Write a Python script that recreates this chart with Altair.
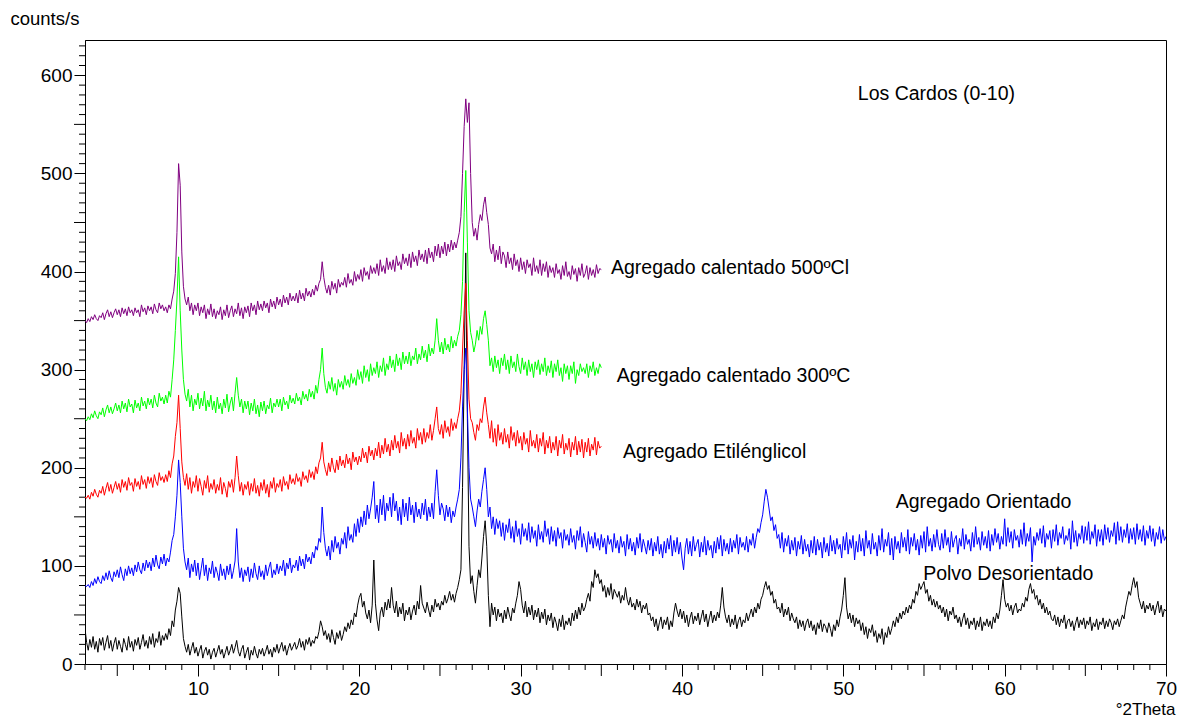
import altair as alt
import pandas as pd

# 2-theta grid (instrument step 0.1 deg)
X_LONG = [round(3.0 + 0.1 * i, 1) for i in range(671)]   # 3.0 .. 70.0
X_SHORT = X_LONG[:321]                                    # 3.0 .. 35.0

POLVO = [
    36, 22, 14, 25, 17, 28, 15, 23, 12, 26,
    19, 27, 14, 22, 29, 16, 24, 13, 21, 27,
    15, 24, 18, 12, 26, 20, 14, 28, 17, 23,
    13, 25, 19, 27, 15, 22, 30, 18, 24, 16,
    28, 20, 31, 17, 26, 22, 33, 19, 29, 24,
    31, 25, 36, 29, 44, 38, 55, 64, 78, 72,
    48, 26, 18, 12, 20, 9, 16, 22, 11, 17,
    8, 14, 19, 6, 13, 17, 9, 15, 5, 12,
    16, 7, 13, 19, 10, 15, 6, 12, 18, 9,
    14, 20, 11, 17, 24, 13, 8, 15, 19, 6,
    12, 17, 4, 14, 9, 18, 11, 6, 15, 10,
    16, 8, 13, 19, 10, 15, 7, 17, 12, 20,
    11, 17, 22, 13, 19, 9, 16, 21, 14, 18,
    22, 15, 19, 26, 17, 23, 14, 25, 20, 27,
    18, 24, 21, 28, 26, 33, 44, 38, 29, 34,
    25, 31, 22, 35, 27, 20, 32, 26, 34, 24,
    30, 38, 33, 42, 36, 45, 40, 52, 48, 60,
    68, 72, 58, 64, 52, 46, 55, 42, 60, 106,
    62, 45, 34, 52, 58, 48, 63, 55, 66, 57,
    78, 60, 52, 64, 48, 58, 51, 62, 44, 55,
    50, 58, 45, 54, 60, 50, 64, 56, 80, 62,
    57, 52, 63, 55, 48, 60, 53, 66, 58, 62,
    55, 64, 60, 70, 62, 67, 74, 65, 71, 63,
    72, 78, 86, 96, 180, 300, 419, 250, 120, 82,
    90, 74, 62, 80, 96, 88, 108, 130, 146, 120,
    70, 38, 62, 50, 58, 44, 56, 48, 52, 42,
    55, 46, 58, 50, 44, 57, 52, 62, 70, 84,
    76, 60, 52, 64, 48, 58, 50, 60, 45, 55,
    48, 57, 42, 53, 46, 56, 40, 50, 44, 52,
    37, 48, 42, 34, 46, 38, 50, 35, 44, 40,
    47, 39, 52, 44, 55, 46, 58, 50, 62, 54,
    58, 66, 72, 64, 84, 78, 96, 88, 92, 82,
    86, 74, 80, 68, 78, 70, 82, 66, 76, 72,
    68, 74, 62, 70, 65, 78, 66, 60, 68, 58,
    62, 55, 66, 58, 64, 52, 60, 56, 62, 50,
    52, 44, 48, 38, 46, 34, 42, 48, 36, 45,
    40, 48, 35, 44, 38, 52, 62, 54, 48, 56,
    46, 54, 42, 50, 38, 47, 53, 41, 49, 44,
    52, 40, 48, 55, 43, 51, 38, 47, 54, 42,
    50, 44, 53, 47, 60, 78, 58, 48, 42, 50,
    38, 46, 40, 50, 36, 44, 48, 38, 45, 42,
    52, 44, 50, 56, 48, 58, 52, 62, 56, 66,
    70, 78, 84, 76, 80, 70, 74, 62, 66, 56,
    58, 52, 62, 48, 56, 50, 58, 44, 52, 46,
    42, 48, 36, 45, 38, 44, 34, 42, 46, 37,
    44, 34, 40, 30, 42, 36, 45, 33, 41, 38,
    32, 42, 36, 28, 40, 34, 45, 38, 48, 56,
    70, 88, 58, 46, 52, 42, 50, 38, 47, 41,
    45, 34, 42, 30, 38, 26, 36, 32, 40, 28,
    34, 22, 31, 26, 36, 20, 32, 27, 38, 30,
    36, 44, 38, 48, 42, 52, 46, 54, 50, 58,
    52, 60, 56, 66, 62, 74, 70, 82, 76, 80,
    84, 72, 76, 64, 70, 60, 66, 58, 64, 56,
    60, 52, 58, 48, 56, 44, 54, 50, 58, 46,
    50, 42, 48, 38, 46, 52, 40, 47, 36, 44,
    40, 47, 35, 44, 38, 48, 34, 43, 39, 46,
    38, 44, 36, 48, 42, 52, 46, 55, 70, 86,
    66, 58, 62, 54, 60, 50, 58, 62, 52, 56,
    54, 62, 58, 68, 64, 76, 82, 72, 76, 66,
    70, 60, 66, 56, 62, 52, 58, 50, 54, 46,
    44, 50, 40, 48, 38, 46, 42, 50, 36, 44,
    46, 38, 44, 34, 42, 48, 37, 45, 40, 47,
    36, 44, 40, 48, 34, 42, 38, 46, 35, 43,
    40, 47, 36, 44, 38, 46, 42, 35, 44, 40,
    46, 38, 44, 50, 46, 58, 66, 74, 70, 80,
    88, 78, 84, 68, 62, 56, 64, 52, 60, 56,
    62, 54, 60, 50, 58, 64, 52, 60, 48, 56,
    54,
]

ORIENTADO = [
    80, 79, 81, 78, 84, 80, 87, 82, 89, 84,
    82, 90, 85, 93, 86, 95, 88, 84, 94, 89,
    96, 88, 99, 91, 85, 97, 90, 100, 92, 98,
    90, 101, 94, 104, 96, 92, 103, 95, 106, 98,
    104, 95, 108, 99, 111, 101, 97, 109, 102, 112,
    100, 108, 104, 114, 126, 132, 150, 172, 208, 185,
    150, 118, 104, 96, 108, 88, 102, 94, 106, 90,
    103, 86, 97, 108, 90, 101, 85, 98, 92, 105,
    88, 99, 93, 85, 102, 90, 97, 86, 100, 91,
    102, 87, 95, 105, 138, 104, 88, 98, 84, 96,
    90, 99, 84, 97, 88, 103, 92, 86, 100, 89,
    95, 86, 101, 90, 98, 104, 88, 96, 91, 102,
    92, 100, 95, 106, 90, 103, 97, 108, 93, 101,
    98, 106, 95, 110, 100, 107, 97, 112, 104, 109,
    102, 114, 108, 120, 116, 128, 124, 160, 134, 118,
    110, 120, 106, 126, 114, 130, 118, 124, 112, 128,
    122, 134, 118, 140, 126, 132, 124, 143, 130, 148,
    134, 150, 140, 156, 142, 162, 148, 158, 170, 186,
    148, 162, 144, 168, 152, 172, 146, 164, 156, 170,
    150, 174, 156, 166, 146, 160, 142, 168, 150, 164,
    146, 170, 152, 162, 144, 165, 150, 158, 148, 164,
    152, 168, 146, 160, 150, 164, 148, 176, 198, 172,
    152, 164, 158, 146, 162, 150, 160, 144, 156, 150,
    160, 168, 178, 210, 262, 300, 322, 260, 200, 168,
    160, 150, 140, 156, 168, 160, 176, 188, 200, 178,
    150, 160, 138, 150, 132, 148, 138, 146, 130, 144,
    126, 142, 134, 148, 128, 140, 124, 146, 130, 138,
    122, 143, 130, 138, 126, 144, 124, 140, 128, 136,
    120, 142, 127, 135, 124, 146, 130, 138, 122, 140,
    125, 136, 120, 139, 128, 134, 118, 137, 126, 132,
    121, 138, 124, 131, 117, 136, 126, 140, 119, 133,
    124, 114, 135, 122, 130, 118, 134, 120, 128, 116,
    132, 119, 128, 112, 131, 122, 127, 114, 133, 118,
    126, 113, 130, 119, 125, 110, 132, 117, 128, 115,
    124, 111, 129, 118, 133, 114, 127, 120, 112, 126,
    116, 128, 110, 124, 115, 130, 112, 122, 108, 125,
    113, 128, 117, 131, 110, 126, 114, 129, 112, 124,
    108, 96, 118, 128, 112, 125, 110, 130, 115, 122,
    127, 109, 124, 114, 130, 111, 126, 116, 121, 108,
    125, 113, 129, 117, 131, 110, 127, 115, 123, 112,
    128, 114, 126, 118, 132, 112, 129, 119, 124, 116,
    130, 114, 127, 121, 133, 118, 129, 138, 134, 144,
    152, 166, 178, 170, 158, 146, 150, 136, 142, 128,
    132, 118, 134, 114, 128, 120, 131, 112, 126, 116,
    129, 110, 125, 117, 131, 112, 127, 115, 122, 109,
    126, 113, 130, 111, 127, 116, 124, 108, 129, 114,
    123, 110, 131, 115, 126, 112, 128, 117, 122, 108,
    130, 116, 134, 112, 127, 118, 131, 106, 125, 114,
    132, 115, 128, 110, 136, 118, 126, 112, 133, 117,
    124, 110, 131, 116, 138, 114, 127, 120, 134, 111,
    128, 106, 130, 117, 125, 113, 134, 119, 129, 115,
    137, 112, 129, 120, 133, 116, 127, 111, 131, 118,
    135, 114, 140, 120, 128, 115, 132, 119, 137, 122,
    116, 133, 118, 137, 121, 129, 114, 135, 119, 127,
    131, 112, 128, 120, 138, 117, 132, 122, 127, 115,
    134, 119, 140, 122, 129, 116, 135, 121, 130, 118,
    136, 115, 132, 121, 138, 124, 133, 117, 130, 122,
    148, 120, 139, 124, 135, 118, 137, 126, 131, 119,
    137, 122, 144, 120, 133, 125, 139, 104, 130, 121,
    134, 126, 138, 123, 141, 119, 133, 127, 136, 118,
    137, 125, 142, 121, 134, 128, 140, 122, 131, 126,
    138, 117, 146, 124, 136, 120, 133, 127, 141, 123,
    140, 126, 145, 122, 135, 128, 142, 120, 137, 125,
    137, 121, 142, 127, 139, 124, 136, 130, 144, 122,
    145, 126, 140, 124, 137, 129, 143, 123, 138, 127,
    139, 122, 143, 127, 137, 125, 141, 121, 136, 128,
    141, 125, 138, 120, 134, 127, 140, 123, 137, 126,
    130,
]

ETILENGLICOL = [
    170, 169, 172, 168, 175, 171, 178, 173, 170, 177,
    174, 181, 172, 179, 185, 176, 183, 174, 180, 186,
    178, 184, 175, 188, 180, 186, 177, 190, 182, 185,
    176, 189, 181, 186, 178, 192, 183, 188, 179, 191,
    184, 190, 180, 193, 186, 182, 195, 187, 191, 185,
    193, 186, 197, 190, 204, 212, 232, 246, 274, 240,
    206, 190, 182, 194, 178, 190, 174, 186, 180, 192,
    176, 189, 181, 172, 187, 179, 192, 175, 184, 178,
    188, 174, 183, 177, 190, 173, 185, 179, 170, 186,
    180, 188, 175, 190, 212, 192, 176, 185, 172, 183,
    178, 186, 172, 184, 176, 189, 174, 182, 171, 185,
    177, 188, 174, 183, 170, 186, 179, 190, 175, 184,
    180, 188, 176, 191, 182, 186, 178, 193, 184, 189,
    183, 194, 186, 190, 181, 196, 188, 192, 185, 198,
    190, 196, 188, 201, 194, 205, 210, 226, 206, 198,
    192, 205, 196, 210, 200, 195, 208, 198, 212, 202,
    208, 200, 214, 204, 210, 198, 216, 206, 211, 203,
    212, 206, 220, 210, 216, 205, 222, 212, 218, 208,
    220, 212, 226, 210, 223, 214, 230, 216, 224, 212,
    228, 218, 233, 220, 227, 215, 236, 222, 230, 219,
    234, 222, 238, 225, 231, 220, 240, 228, 236, 224,
    240, 226, 236, 230, 244, 228, 238, 250, 262, 240,
    234, 244, 230, 248, 236, 242, 232, 250, 238, 246,
    240, 250, 258, 276, 320, 360, 388, 330, 270, 250,
    246, 236, 228, 244, 238, 250, 246, 262, 272, 256,
    244, 230, 248, 226, 240, 222, 244, 228, 236, 224,
    240, 226, 234, 220, 242, 228, 236, 222, 238, 225,
    232, 218, 236, 224, 230, 216, 238, 222, 228, 220,
    234, 216, 230, 222, 236, 214, 228, 220, 232, 215,
    226, 218, 232, 212, 228, 220, 234, 214, 225, 218,
    230, 211, 226, 218, 232, 213, 227, 216, 229, 210,
    226, 216, 230, 212, 224, 218, 231, 213, 227, 220,
    222,
]

CALENTADO_300 = [
    250, 248, 252, 249, 255, 251, 258, 253, 250, 257,
    254, 261, 252, 259, 264, 256, 262, 255, 260, 266,
    258, 264, 256, 268, 260, 266, 257, 270, 262, 265,
    256, 269, 261, 266, 258, 272, 263, 268, 260, 271,
    264, 270, 261, 274, 266, 262, 276, 268, 272, 265,
    274, 266, 278, 272, 290, 310, 340, 372, 415, 360,
    320, 290, 275, 268, 280, 262, 274, 258, 270, 264,
    276, 260, 271, 263, 278, 258, 269, 262, 274, 259,
    268, 256, 272, 260, 266, 255, 270, 261, 275, 257,
    266, 272, 258, 276, 292, 274, 262, 270, 256, 268,
    260, 268, 254, 266, 258, 270, 255, 264, 252, 267,
    258, 268, 255, 264, 260, 271, 256, 266, 262, 270,
    262, 270, 258, 272, 264, 268, 260, 274, 266, 271,
    265, 276, 268, 272, 264, 278, 270, 275, 268, 280,
    272, 278, 270, 284, 276, 290, 300, 322, 296, 282,
    276, 288, 280, 292, 278, 286, 274, 290, 282, 288,
    280, 294, 284, 290, 282, 296, 286, 292, 284, 300,
    290, 298, 286, 304, 292, 300, 288, 306, 294, 302,
    296, 308, 292, 304, 298, 312, 294, 306, 300, 314,
    302, 310, 298, 316, 304, 312, 300, 318, 306, 314,
    306, 318, 304, 314, 310, 322, 306, 316, 310, 324,
    312, 320, 308, 326, 314, 322, 316, 330, 352, 330,
    318, 328, 316, 332, 320, 326, 318, 334, 322, 330,
    324, 334, 340, 356, 390, 460, 503, 430, 360, 338,
    330, 318, 326, 340, 330, 344, 336, 352, 360, 346,
    330, 304, 312, 298, 314, 302, 310, 296, 312, 304,
    316, 300, 310, 296, 314, 302, 308, 298, 316, 303,
    296, 312, 300, 308, 294, 310, 298, 306, 292, 308,
    300, 310, 295, 306, 298, 312, 294, 304, 297, 309,
    292, 306, 298, 310, 294, 302, 288, 306, 296, 304,
    290, 304, 296, 308, 286, 300, 294, 306, 298, 302,
    296, 306, 292, 304, 298, 308, 294, 302, 296, 306,
    302,
]

CALENTADO_500 = [
    350, 348, 352, 349, 354, 351, 356, 352, 350, 355,
    353, 358, 351, 357, 361, 354, 359, 353, 358, 362,
    356, 361, 354, 363, 357, 362, 355, 364, 358, 361,
    355, 363, 358, 361, 354, 366, 359, 363, 356, 365,
    360, 364, 357, 367, 361, 358, 368, 362, 366, 360,
    364, 358, 366, 362, 372, 380, 398, 440, 510, 488,
    420, 385, 372, 366, 374, 360, 368, 356, 366, 360,
    368, 355, 364, 358, 366, 352, 362, 356, 367, 354,
    362, 352, 360, 356, 364, 351, 361, 355, 366, 353,
    360, 365, 354, 362, 357, 368, 355, 363, 352, 364,
    358, 365, 354, 368, 360, 366, 356, 370, 361, 367,
    360, 370, 363, 368, 358, 372, 364, 370, 362, 374,
    366, 372, 364, 376, 368, 374, 366, 378, 370, 375,
    370, 378, 368, 381, 372, 378, 370, 383, 375, 380,
    374, 382, 376, 386, 380, 388, 392, 410, 394, 384,
    378, 386, 376, 390, 382, 388, 378, 392, 384, 389,
    386, 394, 384, 398, 388, 392, 386, 400, 390, 397,
    392, 402, 390, 404, 396, 400, 392, 406, 398, 404,
    398, 408, 396, 412, 400, 406, 398, 414, 402, 410,
    402, 412, 400, 416, 406, 410, 402, 418, 408, 414,
    406, 418, 404, 420, 410, 416, 406, 422, 412, 418,
    410, 422, 408, 424, 414, 420, 410, 426, 416, 428,
    414, 426, 418, 430, 416, 428, 420, 432, 422, 430,
    424, 432, 440, 456, 500, 548, 576, 552, 572, 500,
    450, 436, 444, 432, 448, 458, 452, 468, 476, 460,
    448, 424, 418, 428, 410, 422, 412, 426, 408, 420,
    416, 404, 420, 408, 414, 402, 418, 406, 412, 400,
    414, 402, 410, 398, 412, 404, 408, 396, 414, 400,
    406, 398, 412, 396, 408, 400, 410, 394, 406, 399,
    404, 394, 408, 398, 402, 392, 406, 396, 410, 395,
    400, 392, 406, 397, 403, 390, 404, 396, 408, 394,
    398, 406, 392, 404, 396, 402, 394, 407, 398, 403,
    402,
]

SERIES_NAMES = ["Polvo Desorientado", "Agregado Orientado", "Agregado Etilénglicol",
                "Agregado calentado 300ºC", "Agregado calentado 500ºCl"]
SERIES_COLORS = ["#000000", "#0000ff", "#ff0000", "#00ff00", "#800080"]

LABEL_TEXT = ["Agregado calentado 500ºCl", "Agregado calentado 300ºC", "Agregado Etilénglicol",
              "Agregado Orientado", "Polvo Desorientado", "Los Cardos (0-10)"]
LABEL_X = [35.6, 35.95, 36.35, 53.25, 54.95, 50.9]
LABEL_Y = [397, 287, 210, 159, 86, 575]

# axis tick positions
X_LABELED = [10, 20, 30, 40, 50, 60, 70]
X_MID = [5, 15, 25, 35, 45, 55, 65]
X_MINOR = [v for v in range(3, 71) if v % 5 != 0]
Y_LABELED = [0, 100, 200, 300, 400, 500, 600]
Y_MID = [50, 150, 250, 350, 450, 550]
Y_MINOR = [v for v in range(10, 640, 10) if v % 50 != 0]

rows = []
for name, xs, ys in [
    (SERIES_NAMES[0], X_LONG, POLVO),
    (SERIES_NAMES[1], X_LONG, ORIENTADO),
    (SERIES_NAMES[2], X_SHORT, ETILENGLICOL),
    (SERIES_NAMES[3], X_SHORT, CALENTADO_300),
    (SERIES_NAMES[4], X_SHORT, CALENTADO_500),
]:
    assert len(xs) == len(ys), (name, len(xs), len(ys))
    for a, b in zip(xs, ys):
        rows.append({"theta": a, "counts": b, "serie": name})
df = pd.DataFrame(rows)
labels = pd.DataFrame({"lx": LABEL_X, "ly": LABEL_Y, "txt": LABEL_TEXT})

FONT = "Liberation Sans"
W, H = 1081, 624

xscale = alt.Scale(domain=[3, 70], nice=False, zero=False)
yscale = alt.Scale(domain=[0, 636], nice=False)

xaxis = alt.Axis(
    values=X_LABELED, tickSize=12,
    labelFont=FONT, labelFontSize=19, labelColor="black", labelPadding=3,
    labelOverlap=False, labelFlush=False,
    domainColor="black", tickColor="black", grid=False,
    title="°2Theta", titleFont=FONT, titleFontSize=17, titleFontWeight="normal",
    titleColor="black", titleX=1090, titleY=50, titleAlign="right", titleBaseline="alphabetic",
)
yaxis = alt.Axis(
    values=Y_LABELED, tickSize=11,
    labelFont=FONT, labelFontSize=19, labelColor="black", labelPadding=2,
    labelOverlap=False, labelFlush=False,
    domainColor="black", tickColor="black", grid=False,
    title="counts/s", titleFont=FONT, titleFontSize=18.5, titleFontWeight="normal",
    titleColor="black", titleAngle=0, titleX=-75, titleY=-16, titleAlign="left",
    titleBaseline="alphabetic",
)

XENC = dict(scale=xscale, axis=xaxis)
YENC = dict(scale=yscale, axis=yaxis)

lines = alt.Chart(df).mark_line(strokeWidth=1, clip=True).encode(
    x=alt.X("theta:Q", title="°2Theta", **XENC),
    y=alt.Y("counts:Q", title="counts/s", **YENC),
    color=alt.Color("serie:N", scale=alt.Scale(domain=SERIES_NAMES, range=SERIES_COLORS), legend=None),
    order=alt.Order("theta:Q"),
)

def xticks(vals, length):
    return alt.Chart(pd.DataFrame({"t": vals})).mark_rule(color="black", strokeWidth=1).encode(
        x=alt.X("t:Q", title="°2Theta", **XENC),
        y=alt.value(H), y2=alt.value(H + length),
    )

def yticks(vals, length):
    return alt.Chart(pd.DataFrame({"t": vals})).mark_rule(color="black", strokeWidth=1).encode(
        y=alt.Y("t:Q", title="counts/s", **YENC),
        x=alt.value(0), x2=alt.value(-length),
    )

text = alt.Chart(labels).mark_text(align="left", baseline="alphabetic", font=FONT,
                                   fontSize=19.5, color="black").encode(
    x=alt.X("lx:Q", title="°2Theta", **XENC),
    y=alt.Y("ly:Q", title="counts/s", **YENC),
    text="txt:N",
)

chart = alt.layer(
    lines,
    xticks(X_MINOR, 6), xticks(X_MID, 12),
    yticks(Y_MINOR, 6), yticks(Y_MID, 11),
    text,
).properties(
    width=W, height=H,
    autosize=alt.AutoSizeParams(type="none"),
    padding={"left": 77, "top": 32, "right": 14, "bottom": 54},
    background="white",
).configure_view(stroke="black", strokeWidth=1)

chart.save("out.html", embed_options={"renderer": "svg", "actions": False})
